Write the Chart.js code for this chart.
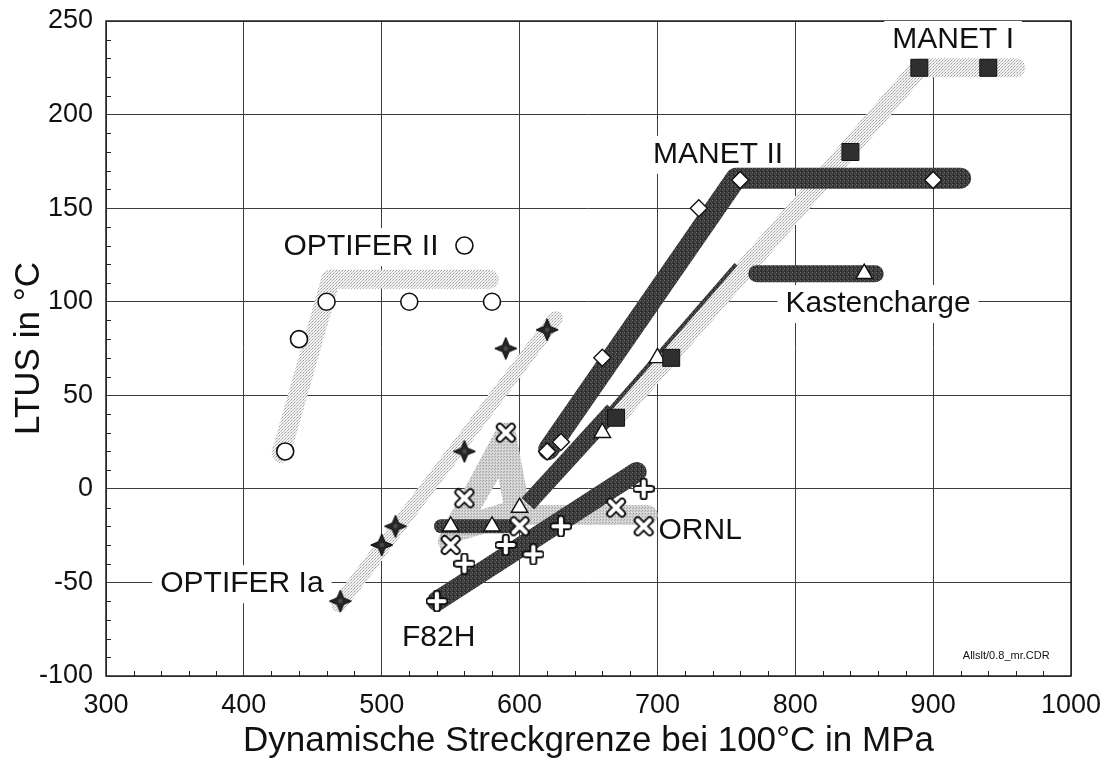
<!DOCTYPE html>
<html>
<head>
<meta charset="utf-8">
<script src="https://cdn.jsdelivr.net/npm/chart.js@4.4.0/dist/chart.umd.min.js"></script>
<style>
  html, body { margin: 0; padding: 0; background: #fff; }
  canvas { display: block; }
</style>
</head>
<body>
<canvas id="c" width="1106" height="762"></canvas>
<script>
// ---- axis ticks ----
const xTicks = [300, 400, 500, 600, 700, 800, 900, 1000];
const yTicks = [-100, -50, 0, 50, 100, 150, 200, 250];

// ---- measured points (yield strength at 100°C in MPa, LTUS in °C) ----
const optiferIIX = [430, 440, 460, 520, 580, 560];
const optiferIIY = [20, 80, 100, 100, 100, 130];

const optiferIaX = [470, 500, 510, 560, 590, 620];
const optiferIaY = [-60, -30, -20, 20, 75, 85];

const manetIIX = [620, 630, 660, 730, 760, 900];
const manetIIY = [20, 25, 70, 150, 165, 165];

const manetIX = [670, 710, 840, 890, 940];
const manetIY = [38, 70, 180, 225, 225];

const kastenX = [550, 580, 600, 660, 700, 850];
const kastenY = [-20, -20, -10, 30, 70, 115];

const ornlX = [550, 560, 590, 600, 670, 690];
const ornlY = [-30, -5, 30, -20, -10, -20];

const f82hX = [540, 560, 590, 610, 630, 690];
const f82hY = [-60, -40, -30, -35, -20, 0];

// ---- trend bands drawn through each steel's points ----
const optiferIIBandX = [427, 463, 578];
const optiferIIBandY = [19, 112, 112];

const optiferIaBandX = [469, 626];
const optiferIaBandY = [-62, 91];

const manetIBandX = [672, 890, 960];
const manetIBandY = [40, 225, 225];

const ornlBandX = [548, 590, 601, 693];
const ornlBandY = [-28, 30, -14, -14];
const ornlPeakX = [553, 589, 598, 553];
const ornlPeakY = [-22, 24, -12, -22];

const manetIIBandX = [621, 757, 920];
const manetIIBandY = [21, 166, 166];

const f82hBandX = [540, 685];
const f82hBandY = [-60, 9];

const kastenLowX = [543, 597];
const kastenLowY = [-20, -20];
const kastenWideX = [606, 668];
const kastenWideY = [-8, 42];
const kastenThinX = [606, 757];
const kastenThinY = [-8, 120];
const kastenTopX = [772, 858];
const kastenTopY = [115, 115];

// ---- curve labels (anchored in data units) ----
const labelTexts = ['MANET I', 'MANET II', 'OPTIFER II', 'Kastencharge', 'OPTIFER Ia', 'F82H', 'ORNL'];
const labelX = [914.5, 744, 485, 860, 398.6, 541.3, 731];
const labelY = [240.4, 179, 129.7, 99.3, -50.4, -79.2, -22];
const fileTag = 'Allslt/0.8_mr.CDR';
const fileTagX = 953;
const fileTagY = -89.4;

const FONT = "'Liberation Sans', Arial, Helvetica, sans-serif";

function pts(xs, ys) { return xs.map((v, i) => ({ x: v, y: ys[i] })); }

function makePattern(base, dots, size) {
  const c = document.createElement('canvas');
  c.width = c.height = size;
  const g = c.getContext('2d');
  g.fillStyle = base;
  g.fillRect(0, 0, size, size);
  dots.forEach(d => { g.fillStyle = d[2]; g.fillRect(d[0], d[1], 1, 1); });
  return g.createPattern(c, 'repeat');
}

const darkTex = makePattern('#3a3a3a', [[0,0,'#6e6e6e'],[2,1,'#555'],[1,3,'#1e1e1e'],[3,2,'#5c5c5c'],[1,1,'#2a2a2a']], 4);
const lightTex = makePattern('#f3f3f3', [[0,0,'#9c9c9c'],[2,1,'#b5b5b5'],[1,2,'#c6c6c6']], 3);
const greyTex = makePattern('#d2d2d2', [[0,0,'#a0a0a0'],[2,1,'#b0b0b0'],[1,2,'#e6e6e6']], 3);

// four-pointed dark star
function starImg() {
  const c = document.createElement('canvas');
  c.width = c.height = 24;
  const g = c.getContext('2d');
  g.beginPath();
  for (let i = 0; i < 8; i++) {
    const a = -Math.PI / 2 + i * Math.PI / 4;
    const r = i % 2 === 0 ? 11 : 4.6;
    g.lineTo(12 + r * Math.cos(a), 12 + r * Math.sin(a));
  }
  g.closePath();
  g.fillStyle = '#262626';
  g.fill();
  g.lineWidth = 1;
  g.strokeStyle = '#000';
  g.stroke();
  g.fillStyle = '#4a4a4a';
  g.beginPath(); g.arc(12, 12, 2.2, 0, Math.PI * 2); g.fill();
  return c;
}

// outlined white x-cross
function crossImg() {
  const c = document.createElement('canvas');
  c.width = c.height = 22;
  const g = c.getContext('2d');
  g.lineCap = 'round';
  const draw = () => { g.beginPath(); g.moveTo(5, 5); g.lineTo(17, 17); g.moveTo(17, 5); g.lineTo(5, 17); g.stroke(); };
  g.strokeStyle = '#111'; g.lineWidth = 8; draw();
  g.strokeStyle = '#fff'; g.lineWidth = 4.2; draw();
  return c;
}

// outlined white plus
function plusImg() {
  const c = document.createElement('canvas');
  c.width = c.height = 22;
  const g = c.getContext('2d');
  g.lineCap = 'round';
  const draw = () => { g.beginPath(); g.moveTo(11, 3.5); g.lineTo(11, 18.5); g.moveTo(3.5, 11); g.lineTo(18.5, 11); g.stroke(); };
  g.strokeStyle = '#111'; g.lineWidth = 8; draw();
  g.strokeStyle = '#fff'; g.lineWidth = 4.2; draw();
  return c;
}

function band(xs, ys, color, width, order, cap) {
  return {
    type: 'scatter', data: pts(xs, ys), showLine: true, pointRadius: 0,
    borderColor: color, borderWidth: width, borderCapStyle: cap || 'round',
    borderJoinStyle: 'round', tension: 0, fill: false, order: order
  };
}

function marks(xs, ys, style, radius, fillColor, lineColor, lw) {
  return {
    type: 'scatter', data: pts(xs, ys), pointStyle: style, pointRadius: radius,
    pointHoverRadius: radius, backgroundColor: fillColor, borderColor: lineColor,
    borderWidth: lw, order: 0
  };
}

const datasets = [
  // markers (on top)
  marks(optiferIIX, optiferIIY, 'circle', 8.5, '#fff', '#111', 1.6),
  marks(optiferIaX, optiferIaY, starImg(), 11, '#333', '#000', 1),
  marks(manetIIX, manetIIY, 'rectRot', 8.5, '#fff', '#111', 1.4),
  marks(manetIX, manetIY, 'rect', 12, '#2f2f2f', '#111', 1),
  marks(kastenX, kastenY, 'triangle', 9.5, '#fff', '#111', 1.4),
  marks(ornlX, ornlY, crossImg(), 10, '#fff', '#111', 1),
  marks(f82hX, f82hY, plusImg(), 10, '#fff', '#111', 1),
  // dark bands
  band(manetIIBandX, manetIIBandY, darkTex, 21, 1),
  band(f82hBandX, f82hBandY, darkTex, 20, 1),
  band(kastenLowX, kastenLowY, darkTex, 14, 1),
  band(kastenWideX, kastenWideY, darkTex, 17, 1, 'butt'),
  band(kastenThinX, kastenThinY, darkTex, 4, 1, 'butt'),
  band(kastenTopX, kastenTopY, darkTex, 17, 1),
  // light bands (underneath)
  band(ornlBandX, ornlBandY, greyTex, 20, 2),
  band(ornlPeakX, ornlPeakY, greyTex, 24, 2),
  band(optiferIIBandX, optiferIIBandY, lightTex, 19, 3),
  band(optiferIaBandX, optiferIaBandY, lightTex, 15, 3),
  band(manetIBandX, manetIBandY, lightTex, 19, 3)
];

// curve labels on white boxes, plus inner minor ticks and the plot frame
const decorPlugin = {
  id: 'decor',
  beforeDatasetsDraw(chart) {
    const { ctx, chartArea: a, scales: { x, y } } = chart;
    ctx.save();
    ctx.strokeStyle = '#222';
    ctx.lineWidth = 1;
    for (let v = 300; v <= 1000; v += 20) {
      if (v % 100 === 0) continue;
      const px = Math.round(x.getPixelForValue(v)) + 0.5;
      ctx.beginPath(); ctx.moveTo(px, a.bottom); ctx.lineTo(px, a.bottom - 5); ctx.stroke();
    }
    for (let v = -100; v <= 250; v += 10) {
      if (v % 50 === 0) continue;
      const py = Math.round(y.getPixelForValue(v)) + 0.5;
      ctx.beginPath(); ctx.moveTo(a.left, py); ctx.lineTo(a.left + 5, py); ctx.stroke();
    }
    ctx.lineWidth = 1.5;
    ctx.strokeRect(a.left, a.top, a.right - a.left, a.bottom - a.top);

    ctx.font = '30px ' + FONT;
    ctx.textAlign = 'center';
    ctx.textBaseline = 'middle';
    labelTexts.forEach((t, i) => {
      const px = x.getPixelForValue(labelX[i]);
      const py = y.getPixelForValue(labelY[i]);
      if (t !== 'ORNL') {
        const w = ctx.measureText(t).width;
        ctx.fillStyle = '#fff';
        ctx.fillRect(px - w / 2 - 8, py - 18, w + 16, 38);
      }
      ctx.fillStyle = '#111';
      ctx.fillText(t, px, py + 1);
    });
    ctx.font = '11px ' + FONT;
    ctx.fillStyle = '#111';
    ctx.fillText(fileTag, x.getPixelForValue(fileTagX), y.getPixelForValue(fileTagY));
    ctx.restore();
  }
};

new Chart(document.getElementById('c'), {
  type: 'scatter',
  data: { datasets },
  plugins: [decorPlugin],
  options: {
    responsive: false,
    animation: false,
    devicePixelRatio: 1,
    events: [],
    layout: { padding: { top: 21, right: 35, left: 0, bottom: 0 } },
    plugins: { legend: { display: false }, tooltip: { enabled: false } },
    scales: {
      x: {
        type: 'linear', min: 300, max: 1000,
        afterFit(s) { s.height = 86; s.paddingLeft = 0; s.paddingRight = 0; },
        afterBuildTicks(s) { s.ticks = xTicks.map(v => ({ value: v })); },
        ticks: { color: '#111', font: { family: FONT, size: 27 }, padding: 13, maxRotation: 0,
                 callback: v => String(v) },
        grid: { color: '#3c3c3c', lineWidth: 1, drawTicks: false },
        border: { display: false },
        title: { display: true, text: 'Dynamische Streckgrenze bei 100°C in MPa', color: '#111',
                 font: { family: FONT, size: 35 }, padding: { top: 0, bottom: 0 } }
      },
      y: {
        type: 'linear', min: -100, max: 250,
        afterFit(s) { s.width = 106; s.paddingTop = 0; s.paddingBottom = 0; },
        afterBuildTicks(s) { s.ticks = yTicks.map(v => ({ value: v })); },
        ticks: { color: '#111', font: { family: FONT, size: 27 }, padding: 13,
                 callback: v => String(v) },
        grid: { color: '#3c3c3c', lineWidth: 1, drawTicks: false },
        border: { display: false },
        title: { display: true, text: 'LTUS in °C', color: '#111',
                 font: { family: FONT, size: 35 }, padding: { top: 8, bottom: 0 } }
      }
    }
  }
});
</script>
</body>
</html>
